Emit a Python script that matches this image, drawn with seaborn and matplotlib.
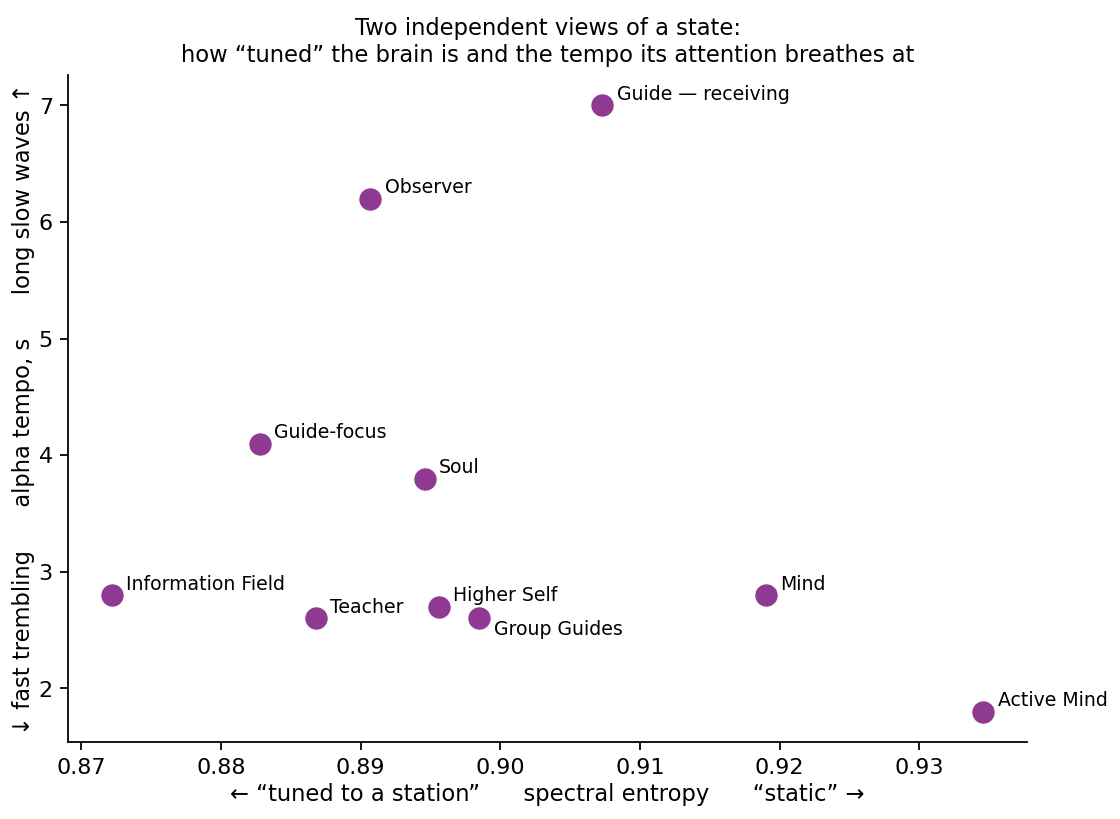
import pandas as pd
import matplotlib.pyplot as plt
import seaborn as sns

# data
states = ["Guide — receiving", "Observer", "Guide-focus", "Soul", "Information Field",
          "Teacher", "Higher Self", "Group Guides", "Mind", "Active Mind"]
entropy = [0.9073, 0.8907, 0.8828, 0.8946, 0.8722, 0.8868, 0.8956, 0.8985, 0.9190, 0.9346]
tempo = [7.0, 6.2, 4.1, 3.8, 2.8, 2.6, 2.7, 2.6, 2.8, 1.8]

df = pd.DataFrame({"state": states, "entropy": entropy, "tempo": tempo})

plt.rcParams['font.family'] = ['DejaVu Sans']

fig, ax = plt.subplots(figsize=(7, 5.12), dpi=160)
sns.scatterplot(data=df, x="entropy", y="tempo", color="#8e3a92", s=110,
                edgecolor="white", linewidth=0.4, ax=ax, zorder=3)

for _, r in df.iterrows():
    off = (6.5, -5) if r["state"] == "Group Guides" else (6.5, 5)
    ax.annotate(r["state"], (r["entropy"], r["tempo"]), xytext=off,
                textcoords="offset points", fontsize=8.5, va="center", ha="left")

sns.despine(ax=ax)
ax.set_xticks([0.87, 0.88, 0.89, 0.90, 0.91, 0.92, 0.93])
ax.set_xticklabels(["0.87", "0.88", "0.89", "0.90", "0.91", "0.92", "0.93"])
ax.tick_params(labelsize=10)
ax.set_xlabel("← “tuned to a station”      spectral entropy      “static” →",
              fontsize=10.2, labelpad=2.5)
ax.set_ylabel("↓ fast trembling      alpha tempo, s      long slow waves ↑",
              fontsize=10.2, labelpad=1.5)
ax.set_title("Two independent views of a state:\n"
             "how “tuned” the brain is and the tempo its attention breathes at",
             fontsize=10.2)
fig.subplots_adjust(left=0.061, right=0.917, top=0.908, bottom=0.094)
plt.savefig("out.png", dpi=160)
